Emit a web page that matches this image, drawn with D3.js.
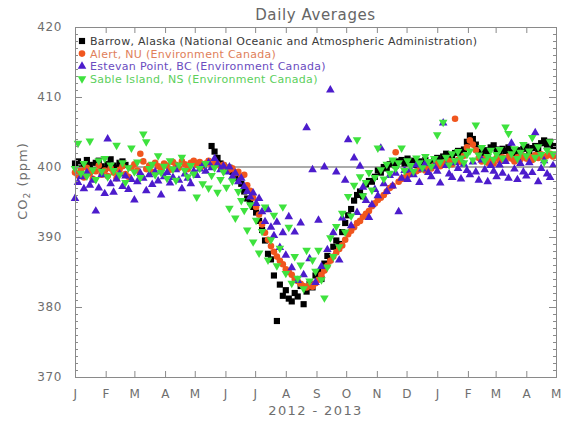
<!DOCTYPE html>
<html>
<head>
<meta charset="utf-8">
<script src="https://cdn.jsdelivr.net/npm/d3@7"></script>
<style>
body { margin:0; background:#fff; }
text { font-family:"DejaVu Sans", sans-serif; }
.axis path, .axis line { stroke:#8a8a8a; }
.axis text { fill:#6e6e6e; font-size:12px; letter-spacing:0.6px; }
</style>
</head>
<body>
<svg id="chart"></svg>
<script>
// one value every 3 days starting 1 Jan 2012
var startDate = new Date(2012,0,1)
var stepDays = 3

var monthLetters = ["J","F","M","A","M","J","J","A","S","O","N","D","J","F","M","A","M"]
var yTicks = [370,380,390,400,410,420]

var barrow = [
 400.5,400.8,399.8,400.2,401,400.3,399.5,400.6,400.9,400.1,399.7,
 400.4,401.1,400.2,399.9,400.6,400.8,400.3,null,null,
 null,null,null,null,null,null,null,null,null,null,null,
 null,null,null,null,null,null,null,null,null,null,
 null,null,null,null,null,403,402.2,401.3,400.5,400.2,
 399.8,399.9,399.3,399,398.4,397.6,396.5,395.5,395,394.3,
 393.5,392.3,391,389.5,387.6,386.8,384.5,378,383.2,381.6,
 382.4,381.2,380.8,382,381.5,383,380.4,382.2,383.3,382.8,384.5,
 385,384,386.2,387.3,386.8,388.6,389.5,389,390.7,392,
 393.1,394,395.2,396,396.5,395.8,397.5,398,397.9,398.6,
 399.5,399.2,400,399.8,400.4,400.7,400.2,400.8,401,400.5,
 401.2,400.7,400.9,400.3,400.8,400.4,401,400.6,400.2,400.9,
 401.3,400.8,401.5,401.9,401.2,401.7,402,402.3,401.8,402.5,403.6,
 404.5,404,403.2,402.2,401.6,402.4,401.9,402.8,403.1,
 402.5,402,402.6,402.3,402.8,402.1,401.7,402.4,402,402.6,
 402.9,402.2,402.7,403,402.5,403.4,403.8,403.2,403.6,403
]
var alert = [
 399.2,398.8,399.6,398.5,399.9,399.1,398.3,399.4,400.2,398.9,399.5,
 398.7,399.8,399.2,398.4,399.6,400.1,399,398.6,399.9,
 400.4,399.5,401.9,400.8,399.7,400.2,399.3,400.6,400.1,399.8,400.5,
 400.2,399.6,400.7,400.3,399.9,400.8,400.4,399.7,400.6,400.9,
 400.3,400.7,400.1,400.5,400.9,400.2,400.6,400.4,400.1,400.3,
 399.9,399.6,399.8,399.1,399.3,398.6,398.9,397.4,396.6,395.6,
 394.3,393.2,391.8,390.6,389.6,388.7,387.9,387.2,386.6,386.1,
 385.4,385,384.6,384,383.7,383.3,383,382.8,383.1,382.9,383.4,
 383.9,384.6,385.2,385.9,386.6,387.2,387.8,388.3,388.8,389.6,
 390.4,390.9,391.4,392,392.3,392.9,393.3,393.7,394.4,394.8,
 395.3,395.6,396,396.5,397,397.3,402.1,397.9,398.3,398.5,
 398.8,399.1,399.2,399.4,399.6,399.8,399.5,400,399.8,400.2,
 400.5,400.1,400.6,400.3,400.9,400.4,406.9,401,400.7,401.6,402.8,
 403.8,403.2,402.4,401.3,400.8,401.2,400.6,401,400.5,
 401.3,400.9,401.4,401,401.5,401.2,400.8,401.4,401.1,401.6,
 401.2,401.5,401,401.7,401.3,401.8,401.4,401.6,401.9,401.5
]
var estevan = [
 395.5,397.8,398.6,396.9,399.2,397.4,398.1,393.7,397,398.9,396.2,
 404,397.6,396.4,398.3,399,397.2,398.7,396.8,398.2,
 395.3,397.9,399.1,398.4,396.6,398.9,397.5,399.3,398,396,398.6,
 399.2,397.7,398.5,399.6,398.1,396.9,399,398.4,397.6,399.4,
 398.8,399.7,400.2,399.4,400.6,399.9,401.2,400.4,399.6,400.1,
 399.3,400,398.6,399.1,397.9,398.4,397.2,396.5,395.7,396.3,
 394.8,395.5,393.6,392.2,393.9,391.4,390.2,392.1,388.5,390.6,
 387.4,392.9,385.6,390.7,383.8,392,384.6,405.6,386.9,399.6,383.5,
 392.4,385.8,400,388.2,411,390.6,399.3,386.7,392.7,398.1,
 403.9,391.6,401.3,393.5,400.1,397.1,395.2,392.8,394.6,396.8,
 395.9,402.7,397.6,396.5,398.8,397.3,399.1,393.6,398.4,399.5,
 398.2,399.6,398.9,400.3,397.8,399.7,400.5,399.2,398.6,400.1,
 399.4,397.7,406.3,400.2,399,398.5,400.6,399.8,398.3,400.4,399.5,
 398.9,400.7,399.3,398.1,401,399.6,397.9,400.2,399.4,
 398.6,400.3,399.1,400.8,398.4,403.4,399.7,398.2,400.5,399.3,
 398.7,400.6,399.2,404.9,397.9,399.8,400.9,399,398.5,400.2
]
var sable = [
 399.8,403.4,399.1,400.5,398.7,403.7,399.6,398.2,400.9,399.4,401.2,
 398.6,400.3,399.5,403.1,398.9,400.6,397.8,399.9,402.7,
 399.3,400.7,398.5,404.7,403.6,399.8,400.4,398.9,401.6,399.2,400.1,
 398.4,400.9,399.7,398.1,400.3,401.4,399.5,398.6,400.2,399,
 395.7,399.8,397.6,400.5,397,398.8,399.9,396.4,398.2,399.3,
 397.1,394.1,398,392.7,396.5,395.2,393.8,391,394.6,389.3,
 392.4,387.7,390.8,394.3,386.7,389.6,393.1,385.9,388.4,394.3,
 384.8,391.4,383.4,387.2,384.1,386,382.6,388.1,383.7,386.7,385.1,
 388.1,383.9,381.3,385.7,389.9,387.2,391.5,388.6,393.4,390.7,
 395.8,393,397.4,403.9,398.6,395.9,397.8,399.2,396.7,398.5,
 402.7,399.6,398.3,400.4,399.1,401,399.8,400.6,402.7,399.5,
 400.9,400.2,399.4,401.3,400.6,399.9,401.5,400.8,400.1,401.2,
 404.6,400.7,406.4,401.4,400.3,401.9,400.9,402.2,401.3,400.6,401.8,
 402.3,401,406,401.7,402.8,400.9,401.5,402.4,401.1,
 401.8,402.5,401.3,405.7,404.8,401.9,402.6,401.2,402.1,403.2,
 401.6,402.3,404.2,401.4,402.9,401.8,400.7,402.4,403.6,401.9
]

var seriesList = [
 {name:"Barrow, Alaska (National Oceanic and Atmospheric Administration)", values:barrow, color:"#000000", text:"#3a3a3a", shape:d3.symbolSquare, size:38, rot:0},
 {name:"Alert, NU (Environment Canada)", values:alert, color:"#f0561e", text:"#e0805a", shape:d3.symbolCircle, size:34, rot:0},
 {name:"Estevan Point, BC (Environment Canada)", values:estevan, color:"#4c1ccc", text:"#6a4cc0", shape:d3.symbolTriangle, size:32, rot:0},
 {name:"Sable Island, NS (Environment Canada)", values:sable, color:"#3ee23e", text:"#5ccf5c", shape:d3.symbolTriangle, size:32, rot:180}
]

var screen = {width:561,height:423}
var margins = {left:75,right:5,top:27,bottom:46}
var graph = {
    width:screen.width-margins.left-margins.right,
    height:screen.height-margins.top-margins.bottom
}

var svg = d3.select("#chart")
    .attr("width",screen.width)
    .attr("height",screen.height)

var xScale = d3.scaleTime()
    .domain([startDate,new Date(2013,4,1)])
    .range([0,graph.width])
var yScale = d3.scaleLinear()
    .domain([370,420])
    .range([graph.height,0])

var target = svg.append("g")
    .attr("transform","translate("+margins.left+","+margins.top+")")

// reference line at 400 ppm
target.append("line")
    .attr("x1",0).attr("x2",graph.width)
    .attr("y1",yScale(400)).attr("y2",yScale(400))
    .attr("stroke","#8f8f8f")
    .attr("stroke-width",1.5)

var drawSeries = function(s)
{
    var pts = s.values.map(function(v,i){
        return {date:d3.timeDay.offset(startDate,i*stepDays),value:v}
    }).filter(function(d){ return d.value!=null })

    target.append("g")
    .selectAll("path")
    .data(pts)
    .enter()
    .append("path")
    .attr("d",d3.symbol().type(s.shape).size(s.size))
    .attr("transform",function(d){
        return "translate("+xScale(d.date)+","+yScale(d.value)+") rotate("+s.rot+")"
    })
    .attr("fill",s.color)
}
seriesList.forEach(drawSeries)

// axes, ticks point inward
var months = d3.timeMonth.range(startDate,new Date(2013,4,2))
var minorY = d3.range(370,421,1)

var xAxis = d3.axisBottom(xScale)
    .tickValues(months)
    .tickSize(-6).tickPadding(12)
    .tickFormat(function(d,i){ return monthLetters[i] })
target.append("g").attr("class","axis")
    .attr("transform","translate(0,"+graph.height+")")
    .call(xAxis)

target.append("g").attr("class","axis")
    .call(d3.axisTop(xScale).tickValues(months).tickSize(-6).tickFormat(""))

target.append("g").attr("class","axis")
    .call(d3.axisLeft(yScale).tickValues(minorY).tickSize(-3).tickSizeOuter(0).tickFormat(""))
target.append("g").attr("class","axis")
    .call(d3.axisLeft(yScale).tickValues(yTicks).tickSize(-7).tickPadding(13).tickFormat(d3.format("d")))

target.append("g").attr("class","axis")
    .attr("transform","translate("+graph.width+",0)")
    .call(d3.axisRight(yScale).tickValues(minorY).tickSize(-3).tickSizeOuter(0).tickFormat(""))
target.append("g").attr("class","axis")
    .attr("transform","translate("+graph.width+",0)")
    .call(d3.axisRight(yScale).tickValues(yTicks).tickSize(-7).tickFormat(""))

// labels
svg.append("text")
    .text("Daily Averages")
    .attr("text-anchor","middle")
    .attr("x",margins.left+graph.width/2)
    .attr("y",20)
    .attr("fill","#666")
    .style("font-size","15px")
    .style("letter-spacing","0.6px")

svg.append("text")
    .text("2012 - 2013")
    .attr("text-anchor","middle")
    .attr("x",margins.left+graph.width/2)
    .attr("y",415)
    .attr("fill","#6e6e6e")
    .style("font-size","13px")
    .style("letter-spacing","1.4px")

var ylab = svg.append("text")
    .attr("text-anchor","middle")
    .attr("transform","translate(27,"+(margins.top+yScale(398))+") rotate(-90)")
    .attr("fill","#6e6e6e")
    .style("font-size","13px")
    .style("letter-spacing","1px")
ylab.append("tspan").text("CO")
ylab.append("tspan").text("2").attr("dy",3).style("font-size","9px")
ylab.append("tspan").text(" (ppm)").attr("dy",-3)

// legend
var legend = svg.append("g")
    .attr("transform","translate("+(margins.left+7)+",41)")
var entries = legend.selectAll("g")
    .data(seriesList)
    .enter()
    .append("g")
    .attr("transform",function(d,i){ return "translate(0,"+(i*12.6)+")" })
entries.append("path")
    .attr("d",function(d){ return d3.symbol().type(d.shape).size(d.size)() })
    .attr("transform",function(d){ return "rotate("+d.rot+")" })
    .attr("fill",function(d){ return d.color })
entries.append("text")
    .text(function(d){ return d.name })
    .attr("x",8)
    .attr("y",4)
    .attr("fill",function(d){ return d.text })
    .style("font-size","11px")
    .style("letter-spacing","0.3px")
</script>
</body>
</html>
